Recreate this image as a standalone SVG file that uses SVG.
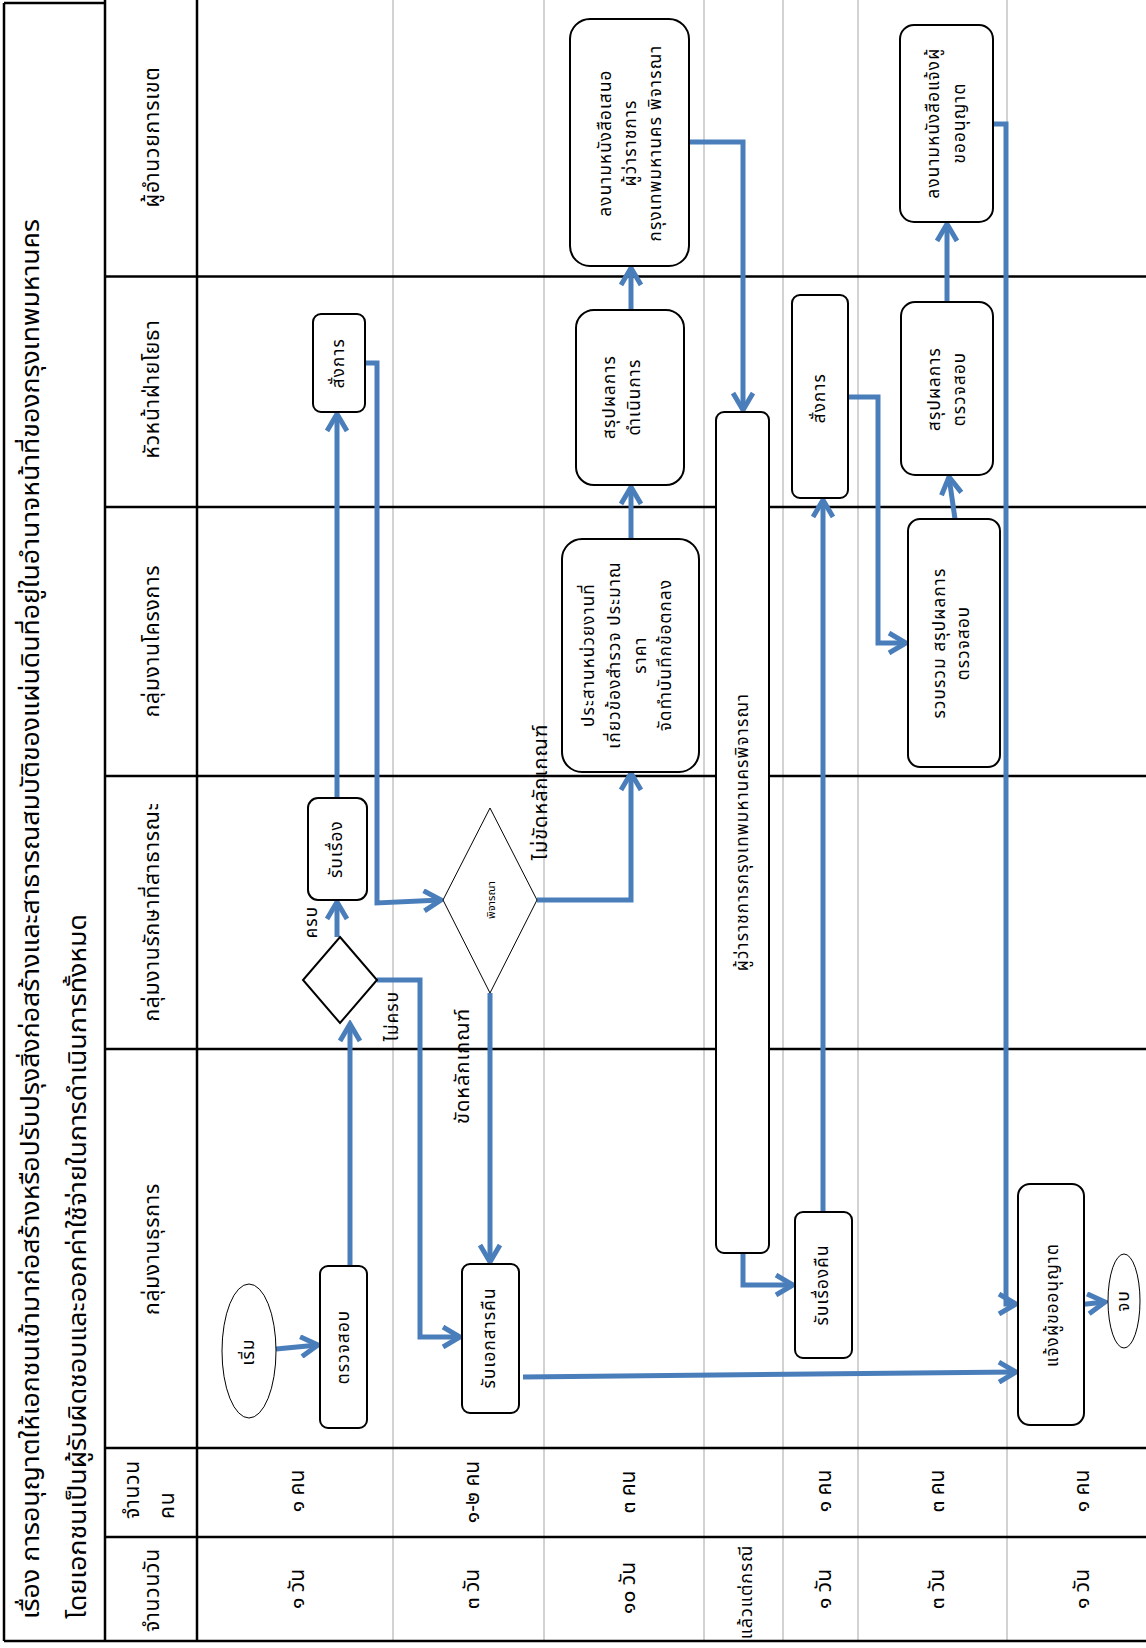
<svg xmlns="http://www.w3.org/2000/svg" width="1146" height="1648" viewBox="0 0 1146 1648">
<style>
text{font-family:"Noto Sans Thai","Noto Sans Thai UI","Tahoma","Noto Sans",sans-serif;fill:#000}
.b{fill:#fff;stroke:#000;stroke-width:2}
.g{stroke:#a6a6a6;stroke-width:1;fill:none}
.k{stroke:#000;stroke-width:2.5;fill:none}
.c{stroke:#4a7ebb;stroke-width:5;fill:none;marker-end:url(#ah)}
.t{font-size:17px;letter-spacing:1.2px}
.h{font-size:21px;letter-spacing:0.8px}
.r{font-size:21px}
.l{font-size:20px;letter-spacing:1px}
.m{text-anchor:middle;dominant-baseline:central}
</style>
<defs>
<marker id="ah" markerUnits="userSpaceOnUse" viewBox="0 0 24 24" refX="20" refY="12" markerWidth="24" markerHeight="24" orient="auto">
<path d="M3,2 L20,12 L3,22" fill="none" stroke="#4a7ebb" stroke-width="5"/>
</marker>
</defs>
<rect width="1146" height="1648" fill="#fff"/>
<g id="grid">
<line class="g" x1="393" y1="0" x2="393" y2="1641"/>
<line class="g" x1="544" y1="0" x2="544" y2="1641"/>
<line class="g" x1="704" y1="0" x2="704" y2="1641"/>
<line class="g" x1="783" y1="0" x2="783" y2="1641"/>
<line class="g" x1="858" y1="0" x2="858" y2="1641"/>
<line class="g" x1="1007" y1="0" x2="1007" y2="1641"/>
<line class="k" x1="4" y1="3" x2="4" y2="1641" stroke-width="3"/>
<line class="k" x1="4" y1="3" x2="105" y2="3"/>
<line class="k" x1="105" y1="0" x2="105" y2="1641"/>
<line class="k" x1="197" y1="0" x2="197" y2="1641"/>
<line class="k" x1="4" y1="1641" x2="1146" y2="1641"/>
<line class="k" x1="105" y1="276.5" x2="1146" y2="276.5"/>
<line class="k" x1="105" y1="507" x2="1146" y2="507"/>
<line class="k" x1="105" y1="776" x2="1146" y2="776"/>
<line class="k" x1="105" y1="1049" x2="1146" y2="1049"/>
<line class="k" x1="105" y1="1448" x2="1146" y2="1448"/>
<line class="k" x1="105" y1="1537" x2="1146" y2="1537"/>
</g>
<g id="title">
<text x="32" y="1619" transform="rotate(-90 32 1619)" font-size="24" dominant-baseline="central" textLength="1400" lengthAdjust="spacingAndGlyphs">เรื่อง การอนุญาตให้เอกชนเข้ามาก่อสร้างหรือปรับปรุงสิ่งก่อสร้างและสาธารณสมบัติของแผ่นดินที่อยู่ในอำนาจหน้าที่ของกรุงเทพมหานคร</text>
<text x="79" y="1619" transform="rotate(-90 79 1619)" font-size="24" dominant-baseline="central" textLength="705" lengthAdjust="spacingAndGlyphs">โดยเอกชนเป็นผู้รับผิดชอบและออกค่าใช้จ่ายในการดำเนินการทั้งหมด</text>
</g>
<g id="headers">
<text class="h m" x="152" y="137" transform="rotate(-90 152 137)">ผู้อำนวยการเขต</text>
<text class="h m" x="152" y="389" transform="rotate(-90 152 389)">หัวหน้าฝ่ายโยธา</text>
<text class="h m" x="152" y="641" transform="rotate(-90 152 641)">กลุ่มงานโครงการ</text>
<text class="h m" x="152" y="912" transform="rotate(-90 152 912)">กลุ่มงานรักษาที่สาธารณะ</text>
<text class="h m" x="152" y="1249" transform="rotate(-90 152 1249)">กลุ่มงานธุรการ</text>
<text class="h" x="132" y="1519" transform="rotate(-90 132 1519)" dominant-baseline="central">จำนวน</text>
<text class="h" x="167" y="1519" transform="rotate(-90 167 1519)" dominant-baseline="central">คน</text>
<text class="h m" x="152" y="1590" transform="rotate(-90 152 1590)">จำนวนวัน</text>
</g>
<g id="rows">
<text class="r m" x="297" y="1491" transform="rotate(-90 297 1491)">๑ คน</text>
<text class="r m" x="297" y="1589" transform="rotate(-90 297 1589)">๑ วัน</text>
<text class="r m" x="472" y="1492" transform="rotate(-90 472 1492)">๑-๒ คน</text>
<text class="r m" x="472" y="1589" transform="rotate(-90 472 1589)">๓ วัน</text>
<text class="r m" x="628" y="1492" transform="rotate(-90 628 1492)">๓ คน</text>
<text class="r m" x="628" y="1588" transform="rotate(-90 628 1588)">๑๐ วัน</text>
<text class="m" font-size="18" letter-spacing="1" x="746" y="1592" transform="rotate(-90 746 1592)">แล้วแต่กรณี</text>
<text class="r m" x="824" y="1491" transform="rotate(-90 824 1491)">๑ คน</text>
<text class="r m" x="824" y="1589" transform="rotate(-90 824 1589)">๑ วัน</text>
<text class="r m" x="937" y="1491" transform="rotate(-90 937 1491)">๓ คน</text>
<text class="r m" x="937" y="1589" transform="rotate(-90 937 1589)">๓ วัน</text>
<text class="r m" x="1082" y="1491" transform="rotate(-90 1082 1491)">๑ คน</text>
<text class="r m" x="1082" y="1589" transform="rotate(-90 1082 1589)">๑ วัน</text>
</g>
<g id="connectors">
<path class="c" d="M276,1349 L318,1345"/>
<path class="c" d="M350,1266 L350,1024"/>
<path class="c" d="M337,937 L337,902"/>
<path class="c" d="M377,980 L420,980 L420,1337 L460,1337"/>
<path class="c" d="M337,798 L337,414"/>
<path class="c" d="M365,363 L377,363 L377,903 L441,900"/>
<path class="c" d="M490,993 L490,1262"/>
<path class="c" d="M537,900 L631,900 L631,773"/>
<path class="c" d="M631,539 L631,487"/>
<path class="c" d="M631,310 L631,268"/>
<path class="c" d="M689,142 L743,142 L743,410"/>
<path class="c" d="M743,1253 L743,1285 L793,1285"/>
<path class="c" d="M823,1212 L823,500"/>
<path class="c" d="M847,397 L878,397 L878,643 L906,643"/>
<path class="c" d="M955,519 L949,477"/>
<path class="c" d="M947,302 L947,224"/>
<path class="c" d="M993,124 L1006,124 L1006,1304 L1016,1304"/>
<path class="c" d="M523,1377 L1016,1372"/>
<path class="c" d="M1077,1305 L1105,1302"/>
</g>
<g id="start">
<ellipse cx="249" cy="1351" rx="27" ry="67" fill="#fff" stroke="#000" stroke-width="1"/>
<text class="t m" x="249" y="1352" transform="rotate(-90 249 1352)">เริ่ม</text>
</g>
<g id="check">
<rect class="b" x="320" y="1266" width="47" height="162" rx="8"/>
<text class="t m" x="344" y="1347" transform="rotate(-90 344 1347)">ตรวจสอบ</text>
</g>
<g id="complete">
<polygon points="340,937 377,980 340,1023 303,980" fill="#fff" stroke="#000" stroke-width="2"/>
<text class="t m" x="312" y="922" transform="rotate(-90 312 922)">ครบ</text>
<text class="t m" x="393" y="1016" transform="rotate(-90 393 1016)">ไม่ครบ</text>
</g>
<g id="receive">
<rect class="b" x="308" y="798" width="59" height="102" rx="10"/>
<text class="t m" x="337" y="849" transform="rotate(-90 337 849)">รับเรื่อง</text>
</g>
<g id="order1">
<rect class="b" x="313" y="314" width="52" height="98" rx="8"/>
<text class="t m" x="339" y="363" transform="rotate(-90 339 363)">สั่งการ</text>
</g>
<g id="consider">
<polygon points="490,808 537,900 490,993 443,900" fill="#fff" stroke="#000" stroke-width="1"/>
<text class="m" font-size="11" x="491" y="900" transform="rotate(-90 491 900)">พิจารณา</text>
<text class="l m" x="463" y="1066" transform="rotate(-90 463 1066)">ขัดหลักเกณฑ์</text>
<text class="l m" x="541" y="792" transform="rotate(-90 541 792)">ไม่ขัดหลักเกณฑ์</text>
</g>
<g id="returndocs">
<rect class="b" x="462" y="1264" width="57" height="149" rx="8"/>
<text class="t m" x="490" y="1338" transform="rotate(-90 490 1338)">รับเอกสารคืน</text>
</g>
<g id="coordinate">
<rect class="b" x="562" y="539" width="137" height="233" rx="20"/>
<text class="t m" x="589" y="655" transform="rotate(-90 589 655)">ประสานหน่วยงานที่</text>
<text class="t m" x="615" y="655" transform="rotate(-90 615 655)">เกี่ยวข้องสำรวจ ประมาณ</text>
<text class="t m" x="641" y="655" transform="rotate(-90 641 655)">ราคา</text>
<text class="t m" x="666" y="655" transform="rotate(-90 666 655)">จัดทำบันทึกข้อตกลง</text>
</g>
<g id="summary1">
<rect class="b" x="576" y="310" width="108" height="175" rx="18"/>
<text class="t m" x="610" y="397" transform="rotate(-90 610 397)">สรุปผลการ</text>
<text class="t m" x="635" y="397" transform="rotate(-90 635 397)">ดำเนินการ</text>
</g>
<g id="sign1">
<rect class="b" x="570" y="19" width="119" height="247" rx="20"/>
<text class="t m" x="606" y="143" transform="rotate(-90 606 143)">ลงนามหนังสือเสนอ</text>
<text class="t m" x="631" y="143" transform="rotate(-90 631 143)">ผู้ว่าราชการ</text>
<text class="t m" x="656" y="143" transform="rotate(-90 656 143)">กรุงเทพมหานคร พิจารณา</text>
</g>
<g id="governor">
<rect class="b" x="716" y="412" width="53" height="841" rx="8"/>
<text class="t m" x="743" y="832" transform="rotate(-90 743 832)">ผู้ว่าราชการกรุงเทพมหานครพิจารณา</text>
</g>
<g id="returnmatter">
<rect class="b" x="795" y="1212" width="57" height="146" rx="8"/>
<text class="t m" x="823" y="1285" transform="rotate(-90 823 1285)">รับเรื่องคืน</text>
</g>
<g id="order2">
<rect class="b" x="792" y="295" width="56" height="203" rx="8"/>
<text class="t m" x="820" y="398" transform="rotate(-90 820 398)">สั่งการ</text>
</g>
<g id="gather">
<rect class="b" x="908" y="519" width="92" height="248" rx="12"/>
<text class="t m" x="940" y="643" transform="rotate(-90 940 643)">รวบรวม สรุปผลการ</text>
<text class="t m" x="964" y="643" transform="rotate(-90 964 643)">ตรวจสอบ</text>
</g>
<g id="summary2">
<rect class="b" x="901" y="302" width="92" height="173" rx="14"/>
<text class="t m" x="935" y="389" transform="rotate(-90 935 389)">สรุปผลการ</text>
<text class="t m" x="960" y="389" transform="rotate(-90 960 389)">ตรวจสอบ</text>
</g>
<g id="sign2">
<rect class="b" x="900" y="25" width="93" height="197" rx="14"/>
<text class="t m" x="934" y="123" transform="rotate(-90 934 123)">ลงนามหนังสือแจ้งผู้</text>
<text class="t m" x="960" y="123" transform="rotate(-90 960 123)">ขออนุญาต</text>
</g>
<g id="notify">
<rect class="b" x="1018" y="1184" width="66" height="241" rx="12"/>
<text class="t m" x="1053" y="1305" transform="rotate(-90 1053 1305)">แจ้งผู้ขออนุญาต</text>
</g>
<g id="end">
<ellipse cx="1124" cy="1301" rx="16" ry="47" fill="#fff" stroke="#000" stroke-width="1"/>
<text class="t m" x="1124" y="1301" transform="rotate(-90 1124 1301)">จบ</text>
</g>
</svg>
